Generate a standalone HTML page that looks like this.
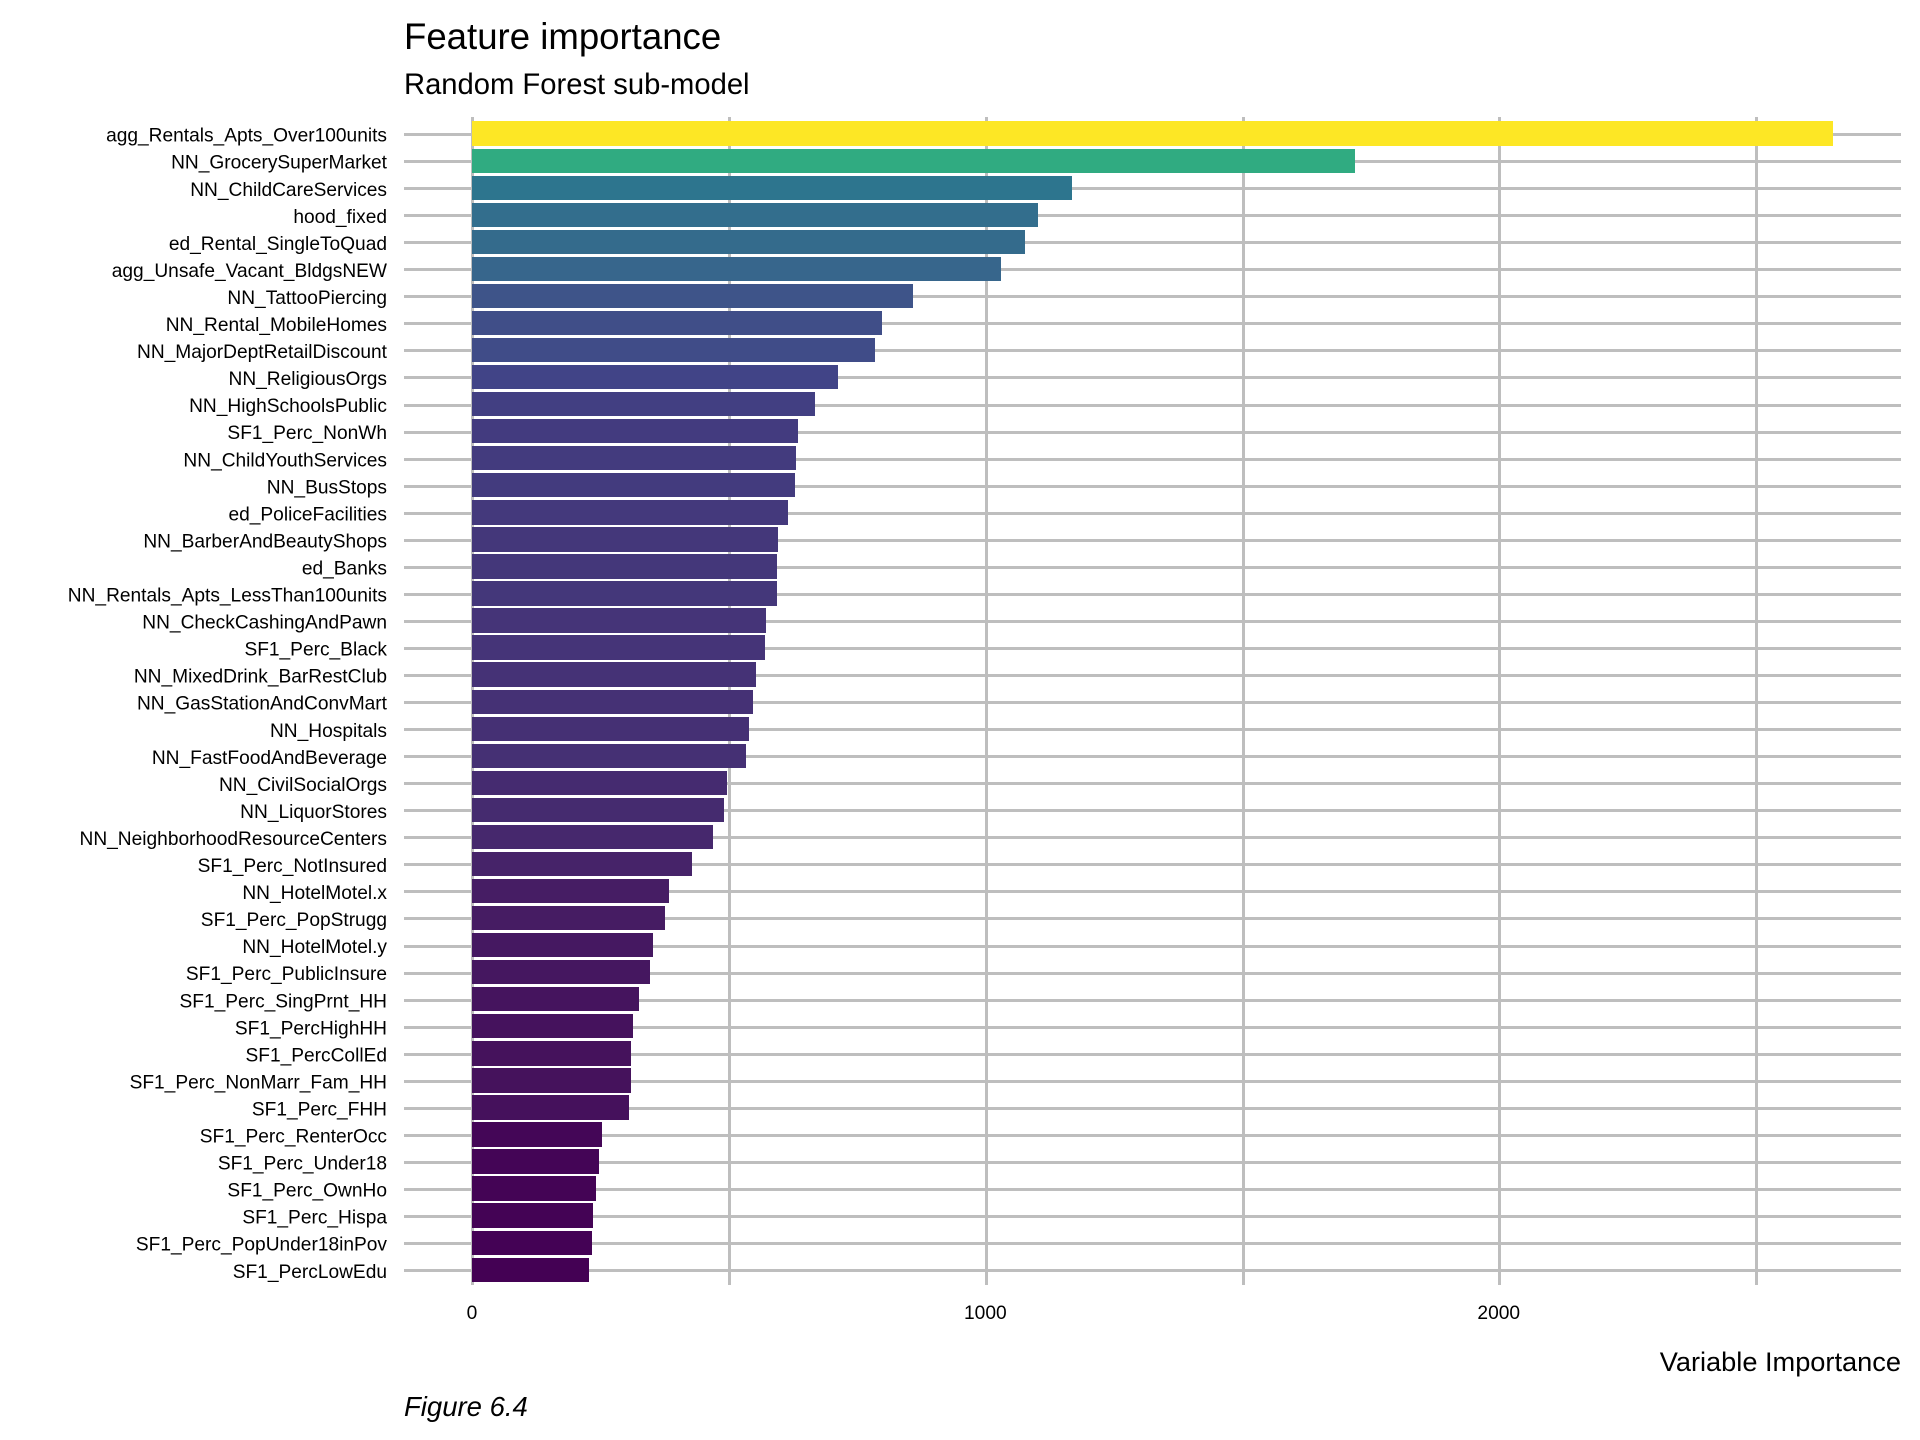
<!DOCTYPE html>
<html lang="en">
<head>
<meta charset="utf-8">
<title>Feature importance</title>
<style>
html,body{margin:0;padding:0;background:#fff;width:1920px;height:1440px;overflow:hidden}
svg{display:block}
text{font-family:"Liberation Sans",Arial,sans-serif;fill:#000}
</style>
</head>
<body>
<svg id="chart" xmlns="http://www.w3.org/2000/svg" width="1920" height="1440" viewBox="0 0 1920 1440">
  <rect width="1920" height="1440" fill="#ffffff"/>
  <text x="404" y="49" font-size="36.6">Feature importance</text>
  <text x="404" y="94" font-size="29.2">Random Forest sub-model</text>
  <g id="grid-x"></g>
  <g id="grid-y"></g>
  <g id="bars"></g>
  <g id="labels-y"></g>
  <g id="labels-x"></g>
  <text x="1901" y="1371" font-size="27.2" text-anchor="end">Variable Importance</text>
  <text x="404" y="1416" font-size="27.5" font-style="italic">Figure 6.4</text>
</svg>
<script>
const categories = [
  "agg_Rentals_Apts_Over100units","NN_GrocerySuperMarket","NN_ChildCareServices","hood_fixed",
  "ed_Rental_SingleToQuad","agg_Unsafe_Vacant_BldgsNEW","NN_TattooPiercing","NN_Rental_MobileHomes",
  "NN_MajorDeptRetailDiscount","NN_ReligiousOrgs","NN_HighSchoolsPublic","SF1_Perc_NonWh",
  "NN_ChildYouthServices","NN_BusStops","ed_PoliceFacilities","NN_BarberAndBeautyShops","ed_Banks",
  "NN_Rentals_Apts_LessThan100units","NN_CheckCashingAndPawn","SF1_Perc_Black","NN_MixedDrink_BarRestClub",
  "NN_GasStationAndConvMart","NN_Hospitals","NN_FastFoodAndBeverage","NN_CivilSocialOrgs","NN_LiquorStores",
  "NN_NeighborhoodResourceCenters","SF1_Perc_NotInsured","NN_HotelMotel.x","SF1_Perc_PopStrugg",
  "NN_HotelMotel.y","SF1_Perc_PublicInsure","SF1_Perc_SingPrnt_HH","SF1_PercHighHH","SF1_PercCollEd",
  "SF1_Perc_NonMarr_Fam_HH","SF1_Perc_FHH","SF1_Perc_RenterOcc","SF1_Perc_Under18","SF1_Perc_OwnHo",
  "SF1_Perc_Hispa","SF1_Perc_PopUnder18inPov","SF1_PercLowEdu"
];
const importance = [
  2649.1,1718.1,1166.8,1100.6,1075.3,1028.5,857.1,796.7,783.1,711,666.2,633.1,629.2,627.3,613.7,594.2,592.2,592.2,
  570.8,568.9,551.3,545.5,537.7,531.8,494.8,489,467.6,426.7,381.9,374.1,350.7,344.9,323.4,311.7,307.8,307.8,
  304,251.4,245.5,239.7,233.8,231.9,226
];
const xGridValues = [0,500,1000,1500,2000,2500];
const xTickValues = [0,1000,2000];
const xTickLabels = ["0","1000","2000"];
const viridisStops = ["#440154","#414487","#2a788e","#22a884","#7ad151","#fde725"];

const SVG_NS = "http://www.w3.org/2000/svg";
const X0 = 472.95, X_SCALE = 0.5134;
const ROW_FIRST = 133.65, ROW_STEP = 27.05, BAR_HALF = 12.17;
const GRID_LEFT = 404, GRID_RIGHT = 1901, GRID_TOP = 117, GRID_BOTTOM = 1285;

function xPos(v){ return X0 + v * X_SCALE; }
function yPos(i){ return ROW_FIRST + i * ROW_STEP; }

function hexToLab(h){
  const rgb = [1,3,5].map(function(k){
    const c = parseInt(h.substr(k,2),16) / 255;
    return c <= 0.04045 ? c / 12.92 : Math.pow((c + 0.055) / 1.055, 2.4);
  });
  const x = (0.4124564*rgb[0] + 0.3575761*rgb[1] + 0.1804375*rgb[2]) / 0.95047;
  const y =  0.2126729*rgb[0] + 0.7151522*rgb[1] + 0.0721750*rgb[2];
  const z = (0.0193339*rgb[0] + 0.1191920*rgb[1] + 0.9503041*rgb[2]) / 1.08883;
  const f = function(t){ return t > 0.008856 ? Math.cbrt(t) : 7.787*t + 16/116; };
  return [116*f(y) - 16, 500*(f(x) - f(y)), 200*(f(y) - f(z))];
}
function labToCss(lab){
  const fy = (lab[0] + 16) / 116, fx = lab[1] / 500 + fy, fz = fy - lab[2] / 200;
  const g = function(t){ const c = t*t*t; return c > 0.008856 ? c : (t - 16/116) / 7.787; };
  const x = g(fx)*0.95047, y = g(fy), z = g(fz)*1.08883;
  const lin = [
     3.2404542*x - 1.5371385*y - 0.4985314*z,
    -0.9692660*x + 1.8760108*y + 0.0415560*z,
     0.0556434*x - 0.2040259*y + 1.0572252*z
  ];
  const out = lin.map(function(c){
    c = Math.max(0, Math.min(1, c));
    const s = c <= 0.0031308 ? 12.92*c : 1.055*Math.pow(c, 1/2.4) - 0.055;
    return Math.round(s*255);
  });
  return "rgb(" + out.join(",") + ")";
}
function fillFor(v){
  const lo = Math.min.apply(null, importance), hi = Math.max.apply(null, importance);
  const t = hi > lo ? Math.max(0, Math.min(1, (v - lo) / (hi - lo))) : 0;
  const p = t * (viridisStops.length - 1), k = Math.min(Math.floor(p), viridisStops.length - 2), f = p - k;
  const a = hexToLab(viridisStops[k]), b = hexToLab(viridisStops[k + 1]);
  return labToCss(a.map(function(c, j){ return c + (b[j] - c) * f; }));
}
function make(tag, parentId, attrs){
  const el = document.createElementNS(SVG_NS, tag);
  Object.keys(attrs).forEach(function(k){ el.setAttribute(k, attrs[k]); });
  document.getElementById(parentId).appendChild(el);
  return el;
}

xGridValues.forEach(function(v){
  const left = Math.round(xPos(v) - 1.5);
  const el = make("rect", "grid-x", {x:left, y:GRID_TOP, width:3, height:GRID_BOTTOM - GRID_TOP, fill:"#bebebe"});
  
  
});

categories.forEach(function(name, i){
  const top = Math.round(yPos(i) + 0.85 - 1.5);
  const el = make("rect", "grid-y", {x:GRID_LEFT, y:top, width:GRID_RIGHT - GRID_LEFT, height:3, fill:"#bebebe"});
  
  
});

categories.forEach(function(name, i){
  const v = importance[i];
  const left = Math.floor(xPos(0));
  const right = Math.round(xPos(v));
  const top = Math.round(yPos(i) - BAR_HALF);
  const bottom = Math.round(yPos(i) + BAR_HALF);
  const bar = make("rect", "bars", {x:left, y:top, width:right - left, height:bottom - top, fill:fillFor(v)});
  
  

  const label = make("text", "labels-y", {x:387, y:(yPos(i) + 8).toFixed(1), "font-size":"19.15", "text-anchor":"end"});
  label.textContent = name;
  
  
});

xTickValues.forEach(function(v, i){
  const t = make("text", "labels-x", {x:xPos(v) - 1, y:1319, "font-size":"19.2", "text-anchor":"middle"});
  t.textContent = xTickLabels[i];
  
  
});
</script>
</body>
</html>
